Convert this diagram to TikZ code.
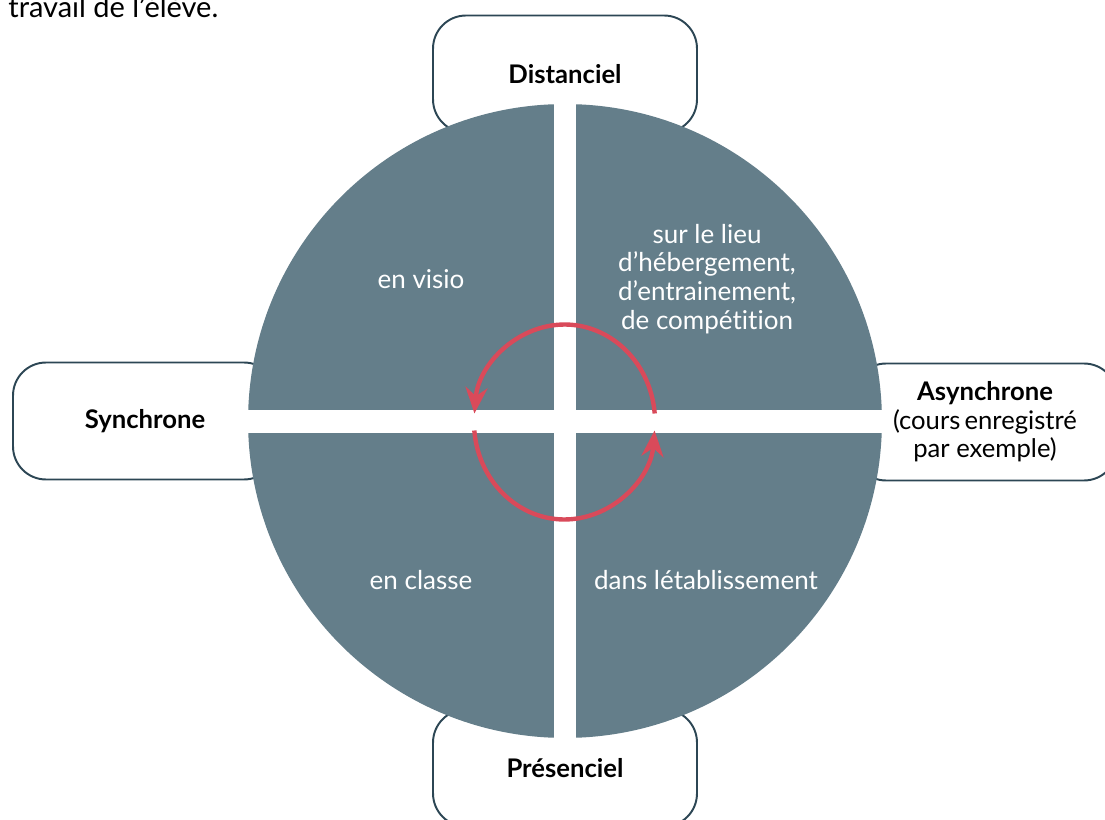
\documentclass[tikz,border=0pt]{standalone}
\usepackage{fontspec}
\setmainfont[Ligatures=NoCommon]{Lato}
\usetikzlibrary{arrows.meta}
\definecolor{disc}{HTML}{647E8A}
\definecolor{frame}{HTML}{2C4654}
\definecolor{loopred}{HTML}{D94A5A}
\begin{document}
\begin{tikzpicture}[x=0.02cm,y=-0.02cm,
 box/.style={draw=frame, line width=1.1pt, rounded corners=0.66cm, fill=white,
   minimum width=5.28cm, minimum height=2.34cm, inner sep=0pt,
   font=\fontsize{14.6}{16.2}\selectfont, align=center, text=black},
 inner/.style={font=\fontsize{14.8}{16.4}\selectfont, text=white, align=center, inner sep=0pt},
 loop/.style={draw=loopred, line width=2.5pt, -{Stealth[length=0.52cm,width=0.44cm,inset=0.17cm]}}]
\useasboundingbox (0,0) rectangle (1105,820);
\node[anchor=base west, inner sep=0pt, font=\fontsize{16.5}{18}\selectfont] (intro) at (8,18) {travail de l’élève.};
% boxes
\node[box] (dist) at (565,74) {\textbf{Distanciel}};
\node[box] (sync) at (145,421) {\textbf{Synchrone}};
\node[box] (async) at (985,422) {\textbf{Asynchrone}\\(cours\,enregistré\\par exemple)};
\node[box] (pres) at (565,768) {\textbf{Présenciel}};
% disc
\node[circle, fill=disc, minimum size=12.68cm, inner sep=0pt] (disk) at (565,421) {};
\begin{scope}
  \clip (565,421) circle[radius=6.36cm];
  \fill[white] (554,0) rectangle (576,820);
  \fill[white] (0,410) rectangle (1105,433);
\end{scope}
% quadrant texts
\node[inner] (visio) at (421,279) {en visio};
\node[inner] (lieu) at (707,279) {sur le lieu\\d’hébergement,\\d’entrainement,\\de compétition};
\node[inner] (classe) at (421,580) {en classe};
\node[inner] (etab) at (706,580) {dans létablissement};
% loop
\coordinate (a1) at (654.7,413.5);
\coordinate (a2) at (474.3,430.5);
\draw[loop] (a1) arc[start angle=5, end angle=175, x radius=1.81cm, y radius=1.95cm];
\draw[loop] (a2) arc[start angle=185, end angle=355, x radius=1.81cm, y radius=1.95cm];
\end{tikzpicture}
\end{document}
